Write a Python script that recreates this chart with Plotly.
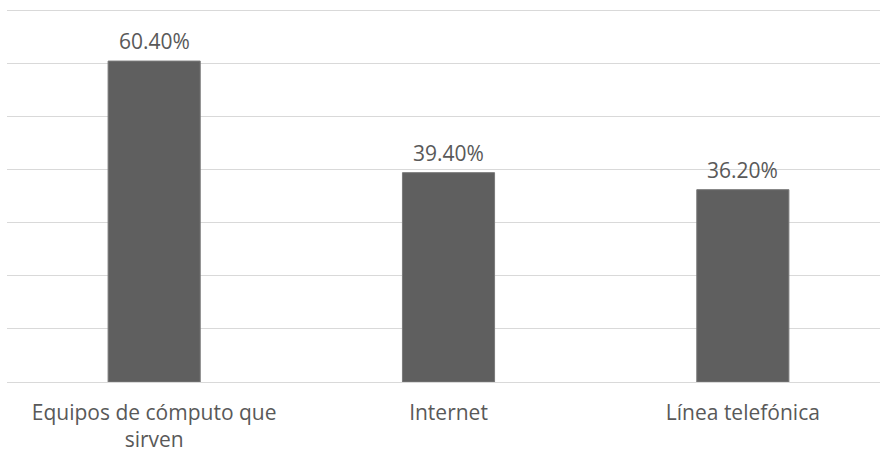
import plotly.graph_objects as go

categories = ["Equipos de cómputo que<br>sirven", "Internet", "Línea telefónica"]
values = [60.4, 39.4, 36.2]
value_labels = ["60.40%", "39.40%", "36.20%"]
y_ticks = [0, 10, 20, 30, 40, 50, 60, 70]

text_color = "#595959"
font_family = "Open Sans, DejaVu Sans, sans-serif"
font_size = 21

fig = go.Figure()
fig.add_trace(go.Bar(
    x=list(range(len(categories))),
    y=values,
    width=0.313,
    marker=dict(color="#5f5f5f", line=dict(color="#7a7a7a", width=1)),
    hoverinfo="skip",
))

for i, (v, lab) in enumerate(zip(values, value_labels)):
    fig.add_annotation(
        x=i, y=v, text=lab, showarrow=False,
        yanchor="bottom", yshift=4,
        font=dict(family=font_family, size=font_size, color=text_color),
    )

fig.update_layout(
    width=880, height=452,
    margin=dict(l=7, r=0, t=9, b=70),
    paper_bgcolor="white", plot_bgcolor="white",
    showlegend=False,
    font=dict(family=font_family, size=font_size, color=text_color),
    xaxis=dict(
        tickmode="array",
        tickvals=list(range(len(categories))),
        ticktext=categories,
        range=[-0.5, 2.466],
        showgrid=False, zeroline=False,
        showline=False, ticks="",
        ticklabelstandoff=16,
        tickfont=dict(family=font_family, size=font_size, color=text_color),
    ),
    yaxis=dict(
        range=[0, 70.2],
        tickvals=y_ticks,
        showticklabels=False,
        showgrid=True, gridcolor="#d9d9d9", gridwidth=1.3,
        zeroline=True, zerolinecolor="#d9d9d9", zerolinewidth=1.3,
        showline=False, ticks="",
    ),
)

fig.write_html("out.html")
